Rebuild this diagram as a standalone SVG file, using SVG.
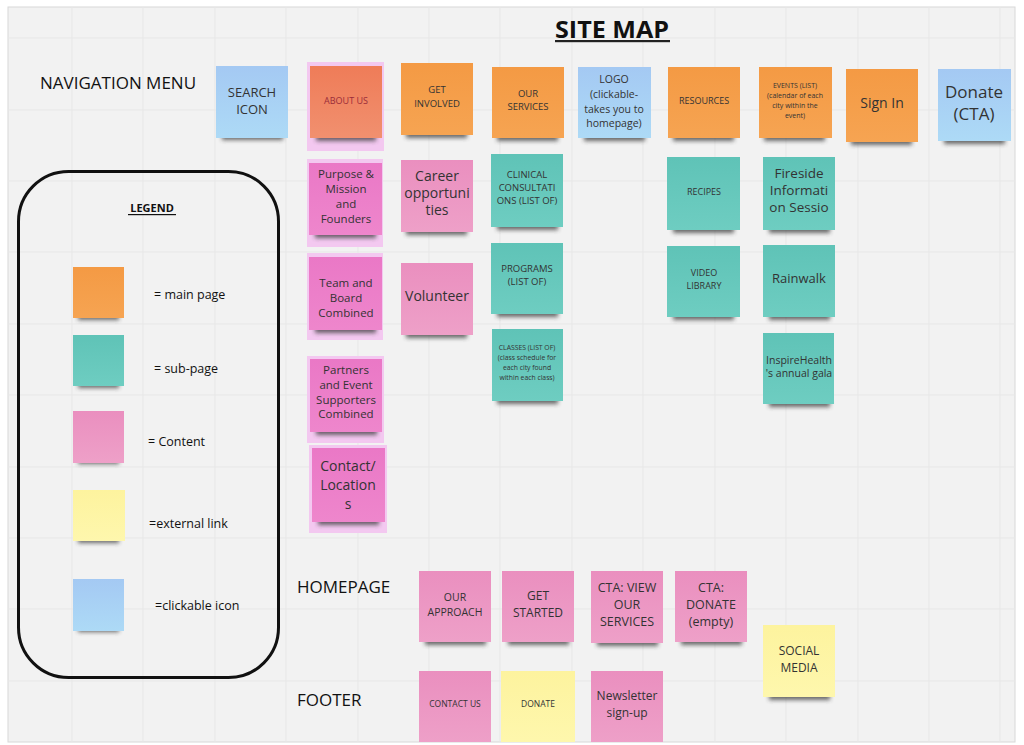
<svg xmlns="http://www.w3.org/2000/svg" width="1024" height="745" viewBox="0 0 1024 745">
<style>
.t{font-family:"Open Sans","Noto Sans",sans-serif;fill:#333;text-anchor:middle}
.lbl{font-family:"Open Sans","Noto Sans",sans-serif;fill:#111;font-size:17px}
.leg{font-family:"Open Sans","Noto Sans",sans-serif;fill:#111;font-size:12.5px}
.grid line{stroke:#e7e7e7;stroke-width:1}
.sh{fill:#3a3a3a;opacity:.75;filter:url(#sh)}
.or{fill:url(#gOr)}
.bl{fill:url(#gBl)}
.te{fill:url(#gTe)}
.mg{fill:url(#gMg)}
.pk{fill:url(#gPk)}
.ye{fill:url(#gYe)}
.ab{fill:url(#gAb)}
.hl{fill:#f3c8f0}
</style>
<defs>
<filter id="sh" x="-20%" y="-100%" width="140%" height="300%"><feGaussianBlur stdDeviation="2.2"/></filter>
<linearGradient id="gOr" x1="0" y1="0" x2="0" y2="1"><stop offset="0" stop-color="#f49a44"/><stop offset="1" stop-color="#f6a452"/></linearGradient>
<linearGradient id="gBl" x1="0" y1="0" x2="0" y2="1"><stop offset="0" stop-color="#a4c9f3"/><stop offset="1" stop-color="#addaf6"/></linearGradient>
<linearGradient id="gTe" x1="0" y1="0" x2="0" y2="1"><stop offset="0" stop-color="#5fc3b7"/><stop offset="1" stop-color="#6ecdc1"/></linearGradient>
<linearGradient id="gMg" x1="0" y1="0" x2="0" y2="1"><stop offset="0" stop-color="#ea78c6"/><stop offset="1" stop-color="#ee86cc"/></linearGradient>
<linearGradient id="gPk" x1="0" y1="0" x2="0" y2="1"><stop offset="0" stop-color="#ea8fbf"/><stop offset="1" stop-color="#eea0c8"/></linearGradient>
<linearGradient id="gYe" x1="0" y1="0" x2="0" y2="1"><stop offset="0" stop-color="#fdf39e"/><stop offset="1" stop-color="#fef7ad"/></linearGradient>
<linearGradient id="gAb" x1="0" y1="0" x2="0" y2="1"><stop offset="0" stop-color="#ef7c58"/><stop offset="1" stop-color="#f1906f"/></linearGradient>
<clipPath id="area"><rect x="8" y="7" width="1007" height="735"/></clipPath>
</defs>
<rect width="1024" height="745" fill="#ffffff"/>
<rect x="8" y="7" width="1007" height="735" fill="#f2f2f2" stroke="#d8d8d8" stroke-width="1"/>
<g class="grid" clip-path="url(#area)">
<line x1="72" y1="7" x2="72" y2="742"/><line x1="143" y1="7" x2="143" y2="742"/><line x1="215" y1="7" x2="215" y2="742"/><line x1="286" y1="7" x2="286" y2="742"/><line x1="358" y1="7" x2="358" y2="742"/><line x1="429" y1="7" x2="429" y2="742"/><line x1="500" y1="7" x2="500" y2="742"/><line x1="572" y1="7" x2="572" y2="742"/><line x1="643" y1="7" x2="643" y2="742"/><line x1="715" y1="7" x2="715" y2="742"/><line x1="786" y1="7" x2="786" y2="742"/><line x1="858" y1="7" x2="858" y2="742"/><line x1="929" y1="7" x2="929" y2="742"/><line x1="1000" y1="7" x2="1000" y2="742"/>
<line x1="8" y1="38" x2="1015" y2="38"/><line x1="8" y1="110" x2="1015" y2="110"/><line x1="8" y1="181" x2="1015" y2="181"/><line x1="8" y1="252" x2="1015" y2="252"/><line x1="8" y1="324" x2="1015" y2="324"/><line x1="8" y1="395" x2="1015" y2="395"/><line x1="8" y1="467" x2="1015" y2="467"/><line x1="8" y1="538" x2="1015" y2="538"/><line x1="8" y1="609" x2="1015" y2="609"/><line x1="8" y1="681" x2="1015" y2="681"/>
</g>

<g id="title">
<text x="612" y="38" font-family="'Open Sans','Noto Sans',sans-serif" font-size="24" font-weight="bold" fill="#111" text-anchor="middle" textLength="114" lengthAdjust="spacingAndGlyphs">SITE MAP</text>
<rect x="555" y="40" width="115" height="2.2" fill="#222"/>
</g>
<g id="section-labels">
<text class="lbl" x="40" y="89">NAVIGATION MENU</text>
<text class="lbl" x="297" y="593">HOMEPAGE</text>
<text class="lbl" x="297" y="706">FOOTER</text>
</g>

<g id="legend">
<rect x="18.5" y="171.5" width="260" height="506" rx="50" ry="50" fill="none" stroke="#111" stroke-width="3"/>
<text x="152" y="212" font-family="'Open Sans','Noto Sans',sans-serif" font-size="11" font-weight="bold" fill="#111" text-anchor="middle">LEGEND</text>
<rect x="128" y="214" width="48" height="1.2" fill="#111"/>
<rect class="sh" x="78" y="314" width="41" height="6"/><rect class="or" x="73" y="267" width="51" height="51"/>
<text class="leg" x="154" y="299">= main page</text>
<rect class="sh" x="78" y="382" width="41" height="6"/><rect class="te" x="73" y="335" width="51" height="51"/>
<text class="leg" x="154" y="373">= sub-page</text>
<rect class="sh" x="78" y="458" width="41" height="6"/><rect class="pk" x="73" y="411" width="51" height="52"/>
<text class="leg" x="148" y="446">= Content</text>
<rect class="sh" x="78" y="537" width="41" height="6"/><rect class="ye" x="73" y="490" width="52" height="51"/>
<text class="leg" x="149" y="528">=external link</text>
<rect class="sh" x="78" y="626" width="41" height="6"/><rect class="bl" x="73" y="579" width="51" height="52"/>
<text class="leg" x="155" y="610">=clickable icon</text>
</g>

<g id="nav-search"><rect class="sh" x="222" y="133" width="61" height="7"/><rect class="bl" x="216" y="66" width="72" height="72"/>
<text class="t" font-size="13"><tspan x="252" y="97">SEARCH</tspan><tspan x="252" y="114">ICON</tspan></text></g>
<g id="nav-about"><rect class="hl" x="307" y="62" width="77" height="89"/><rect class="sh" x="316" y="134" width="60" height="7"/><rect class="ab" x="310" y="66" width="72" height="72"/>
<text class="t" font-size="9" style="fill:#9a2c3a"><tspan x="346" y="104">ABOUT US</tspan></text></g>
<g id="nav-involved"><rect class="sh" x="406" y="131" width="61" height="7"/><rect class="or" x="401" y="63" width="72" height="72"/>
<text class="t" font-size="9.5"><tspan x="437" y="93">GET</tspan><tspan x="437" y="107">INVOLVED</tspan></text></g>
<g id="nav-services"><rect class="sh" x="497" y="134" width="61" height="7"/><rect class="or" x="492" y="67" width="72" height="71"/>
<text class="t" font-size="9.5"><tspan x="528" y="97">OUR</tspan><tspan x="528" y="110">SERVICES</tspan></text></g>
<g id="nav-logo"><rect class="sh" x="584" y="134" width="61" height="7"/><rect class="bl" x="578" y="67" width="73" height="71"/>
<text class="t" font-size="10.5"><tspan x="614" y="83">LOGO</tspan><tspan x="614" y="98">(clickable-</tspan><tspan x="614" y="113">takes you to</tspan><tspan x="614" y="127">homepage)</tspan></text></g>
<g id="nav-resources"><rect class="sh" x="673" y="134" width="61" height="7"/><rect class="or" x="668" y="67" width="72" height="71"/>
<text class="t" font-size="9"><tspan x="704" y="104">RESOURCES</tspan></text></g>
<g id="nav-events"><rect class="sh" x="764" y="134" width="61" height="7"/><rect class="or" x="759" y="67" width="73" height="71"/>
<text class="t" font-size="7"><tspan x="795" y="88">EVENTS (LIST)</tspan><tspan x="795" y="98">(calendar of each</tspan><tspan x="795" y="108">city within the</tspan><tspan x="795" y="118">event)</tspan></text></g>
<g id="nav-signin"><rect class="sh" x="851" y="138" width="61" height="7"/><rect class="or" x="846" y="69" width="72" height="73"/>
<text class="t" font-size="14"><tspan x="882" y="108">Sign In</tspan></text></g>
<g id="nav-donate"><rect class="sh" x="944" y="137" width="61" height="7"/><rect class="bl" x="938" y="69" width="73" height="72"/>
<text class="t" font-size="17"><tspan x="974" y="98">Donate</tspan><tspan x="974" y="120">(CTA)</tspan></text></g>

<g id="about-purpose"><rect class="hl" x="307" y="159" width="76" height="88"/><rect class="sh" x="315" y="231" width="61" height="7"/><rect class="mg" x="309" y="163" width="73" height="72"/>
<text class="t" font-size="11.5"><tspan x="346" y="178">Purpose &amp;</tspan><tspan x="346" y="193">Mission</tspan><tspan x="346" y="208">and</tspan><tspan x="346" y="223">Founders</tspan></text></g>
<g id="about-team"><rect class="hl" x="307" y="253" width="76" height="87"/><rect class="sh" x="315" y="326" width="61" height="7"/><rect class="mg" x="309" y="257" width="73" height="73"/>
<text class="t" font-size="11.5"><tspan x="346" y="287">Team and</tspan><tspan x="346" y="302">Board</tspan><tspan x="346" y="317">Combined</tspan></text></g>
<g id="about-partners"><rect class="hl" x="307" y="356" width="77" height="87"/><rect class="sh" x="316" y="428" width="61" height="7"/><rect class="mg" x="310" y="359" width="72" height="73"/>
<text class="t" font-size="11.5"><tspan x="346" y="374">Partners</tspan><tspan x="346" y="389">and Event</tspan><tspan x="346" y="404">Supporters</tspan><tspan x="346" y="418">Combined</tspan></text></g>
<g id="about-contact"><rect class="hl" x="309" y="445" width="78" height="88"/><rect class="sh" x="318" y="518" width="61" height="7"/><rect class="mg" x="312" y="448" width="73" height="74"/>
<text class="t" font-size="14"><tspan x="348" y="471">Contact/</tspan><tspan x="348" y="490">Location</tspan><tspan x="348" y="509">s</tspan></text></g>

<g id="inv-career"><rect class="sh" x="406" y="228" width="61" height="7"/><rect class="pk" x="401" y="160" width="72" height="72"/>
<text class="t" font-size="14"><tspan x="437" y="181">Career</tspan><tspan x="437" y="198">opportuni</tspan><tspan x="437" y="215">ties</tspan></text></g>
<g id="inv-volunteer"><rect class="sh" x="406" y="331" width="61" height="7"/><rect class="pk" x="401" y="263" width="72" height="72"/>
<text class="t" font-size="14"><tspan x="437" y="301">Volunteer</tspan></text></g>

<g id="svc-clinical"><rect class="sh" x="497" y="223" width="61" height="7"/><rect class="te" x="491" y="154" width="72" height="73"/>
<text class="t" font-size="9.5"><tspan x="527" y="178">CLINICAL</tspan><tspan x="527" y="191">CONSULTATI</tspan><tspan x="527" y="204">ONS (LIST OF)</tspan></text></g>
<g id="svc-programs"><rect class="sh" x="497" y="310" width="61" height="7"/><rect class="te" x="491" y="243" width="72" height="71"/>
<text class="t" font-size="9.5"><tspan x="527" y="272">PROGRAMS</tspan><tspan x="527" y="285">(LIST OF)</tspan></text></g>
<g id="svc-classes"><rect class="sh" x="497" y="397" width="61" height="7"/><rect class="te" x="492" y="329" width="71" height="72"/>
<text class="t" font-size="6.8"><tspan x="527" y="350">CLASSES (LIST OF)</tspan><tspan x="527" y="360">(class schedule for</tspan><tspan x="527" y="370">each city found</tspan><tspan x="527" y="380">within each class)</tspan></text></g>

<g id="res-recipes"><rect class="sh" x="673" y="226" width="61" height="7"/><rect class="te" x="667" y="157" width="73" height="73"/>
<text class="t" font-size="9"><tspan x="704" y="195">RECIPES</tspan></text></g>
<g id="res-video"><rect class="sh" x="673" y="313" width="61" height="7"/><rect class="te" x="667" y="246" width="73" height="71"/>
<text class="t" font-size="9"><tspan x="704" y="276">VIDEO</tspan><tspan x="704" y="289">LIBRARY</tspan></text></g>

<g id="ev-fireside"><rect class="sh" x="769" y="226" width="61" height="7"/><rect class="te" x="763" y="157" width="72" height="73"/>
<text class="t" font-size="13.5"><tspan x="799" y="178">Fireside</tspan><tspan x="799" y="195">Informati</tspan><tspan x="799" y="212">on Sessio</tspan></text></g>
<g id="ev-rainwalk"><rect class="sh" x="769" y="313" width="61" height="7"/><rect class="te" x="763" y="245" width="72" height="72"/>
<text class="t" font-size="13"><tspan x="799" y="283">Rainwalk</tspan></text></g>
<g id="ev-gala"><rect class="sh" x="769" y="400" width="61" height="7"/><rect class="te" x="763" y="333" width="71" height="71"/>
<text class="t" font-size="10.5"><tspan x="799" y="364">InspireHealth</tspan><tspan x="799" y="377">'s annual gala</tspan></text></g>

<g id="home-approach"><rect class="sh" x="425" y="638" width="61" height="7"/><rect class="pk" x="419" y="571" width="72" height="71"/>
<text class="t" font-size="10.5"><tspan x="455" y="601">OUR</tspan><tspan x="455" y="616">APPROACH</tspan></text></g>
<g id="home-started"><rect class="sh" x="508" y="638" width="61" height="7"/><rect class="pk" x="502" y="571" width="72" height="71"/>
<text class="t" font-size="12"><tspan x="538" y="600">GET</tspan><tspan x="538" y="617">STARTED</tspan></text></g>
<g id="home-cta-services"><rect class="sh" x="597" y="639" width="61" height="7"/><rect class="pk" x="591" y="571" width="72" height="72"/>
<text class="t" font-size="12.5"><tspan x="627" y="592">CTA: VIEW</tspan><tspan x="627" y="609">OUR</tspan><tspan x="627" y="626">SERVICES</tspan></text></g>
<g id="home-cta-donate"><rect class="sh" x="681" y="638" width="61" height="7"/><rect class="pk" x="675" y="571" width="72" height="71"/>
<text class="t" font-size="12.5"><tspan x="711" y="592">CTA:</tspan><tspan x="711" y="609">DONATE</tspan><tspan x="711" y="626">(empty)</tspan></text></g>
<g id="home-social"><rect class="sh" x="769" y="693" width="61" height="7"/><rect class="ye" x="763" y="625" width="72" height="72"/>
<text class="t" font-size="12"><tspan x="799" y="655">SOCIAL</tspan><tspan x="799" y="672">MEDIA</tspan></text></g>

<g id="footer-notes" clip-path="url(#area)">
<g id="foot-contact"><rect class="pk" x="419" y="671" width="72" height="72"/>
<text class="t" font-size="8.5"><tspan x="455" y="707">CONTACT US</tspan></text></g>
<g id="foot-donate"><rect class="ye" x="501" y="671" width="74" height="72"/>
<text class="t" font-size="8.5"><tspan x="538" y="707">DONATE</tspan></text></g>
<g id="foot-newsletter"><rect class="pk" x="591" y="671" width="72" height="72"/>
<text class="t" font-size="12"><tspan x="627" y="700">Newsletter</tspan><tspan x="627" y="717">sign-up</tspan></text></g>
</g>
<g id="connectors"/>
</svg>
